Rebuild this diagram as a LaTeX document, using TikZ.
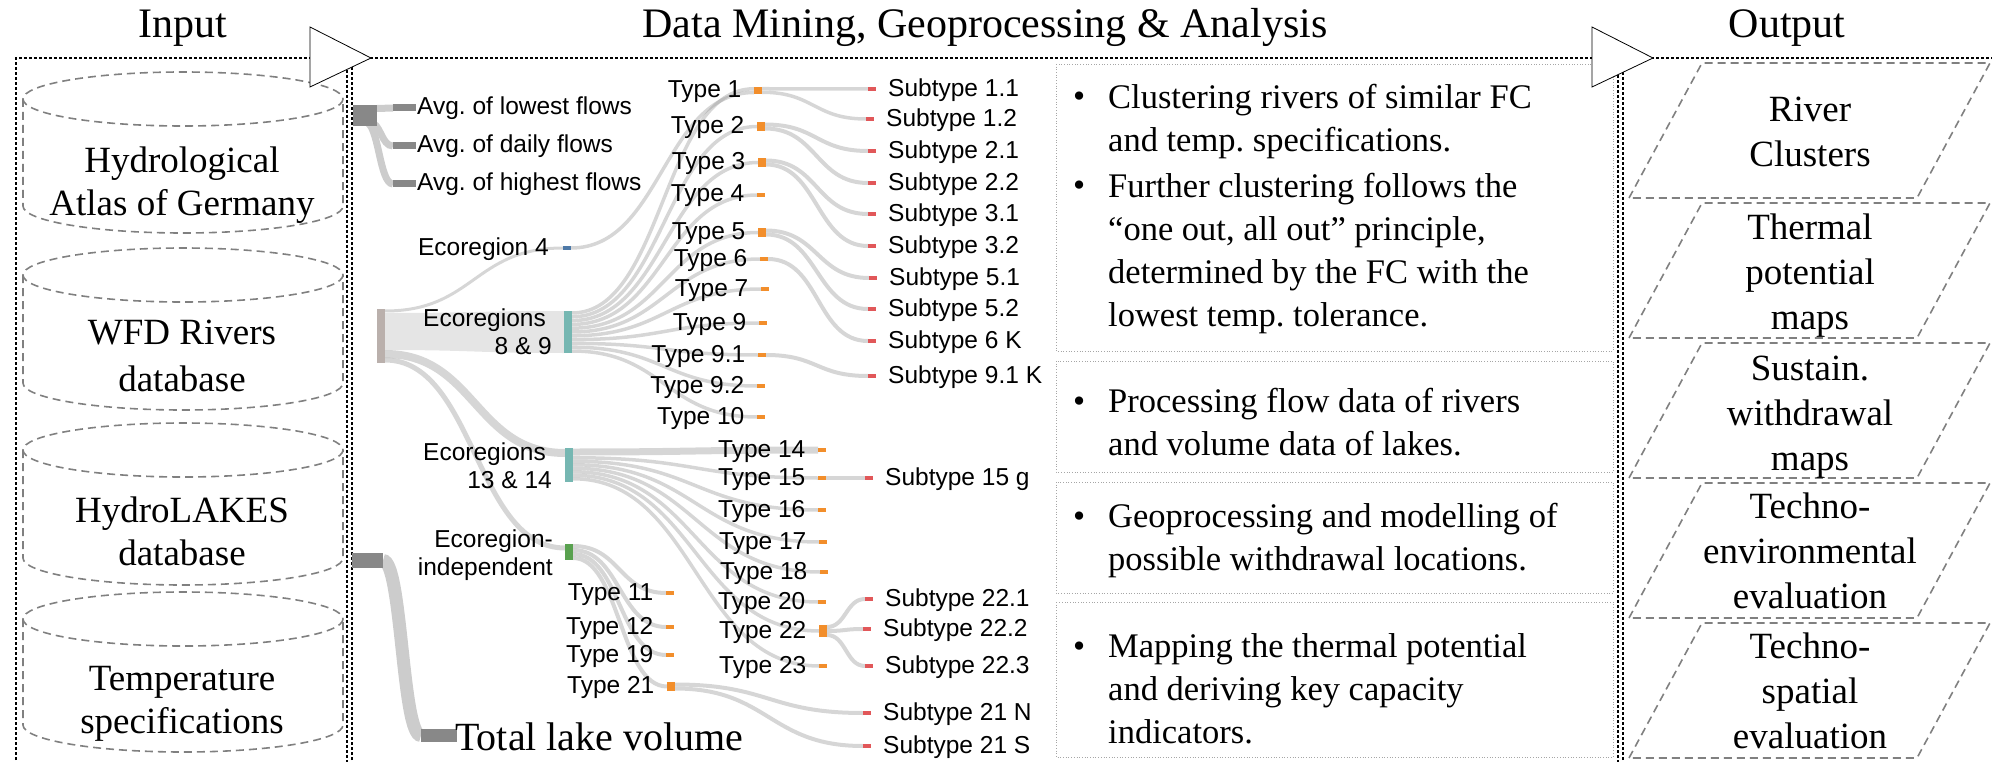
\documentclass[tikz,border=0pt]{standalone}
\usepackage{fontspec}
\setmainfont{Liberation Serif}
\newfontfamily\arialf{Liberation Sans}
\pgfdeclarelayer{bg}
\pgfsetlayers{bg,main}
\definecolor{skgray}{HTML}{888888}
\definecolor{skwfd}{HTML}{BAB0AC}
\definecolor{skblue}{HTML}{4E79A7}
\definecolor{skteal}{HTML}{76B7B2}
\definecolor{skgreen}{HTML}{59A14F}
\definecolor{skorange}{HTML}{F28E2B}
\definecolor{skred}{HTML}{E15759}
\definecolor{cylgray}{HTML}{808080}
\definecolor{boxgray}{HTML}{A6A6A6}
\newcommand\sklk[5][lk]{\draw[#1=#2] (#3) .. controls +(#5,0) and +(-#5,0) .. (#4);}
\newcommand\drawcyl[2]{%
  \draw[cyl] (183,#1+27) ellipse [x radius=160, y radius=27];
  \draw[cyl] (23,#1+27) -- (23,#2-27) arc[start angle=180, end angle=0, x radius=160, y radius=27] -- (343,#1+27);}
\newcommand\drawpara[1]{%
  \draw[para] (1629,#1+135) -- (1702,#1) -- (1990,#1) -- (1917,#1+135) -- cycle;}
\begin{document}
\frenchspacing
\begin{tikzpicture}[x=1pt,y=-1pt,
  panel/.style={draw=black, line width=1.2pt, dash pattern=on 3pt off 2pt},
  cyl/.style={draw=cylgray, line width=1.6pt, dash pattern=on 8pt off 5pt},
  para/.style={draw=cylgray, line width=1.6pt, dash pattern=on 8pt off 5pt},
  chev/.style={draw=black, fill=white, line width=0.8pt},
  title/.style={font=\fontsize{42}{50}\selectfont, inner sep=0pt, anchor=base},
  bigtxt/.style={font=\fontsize{37}{43}\selectfont, inner sep=0pt, align=center, anchor=north},
  outtxt/.style={font=\fontsize{37}{45}\selectfont, inner sep=0pt, align=center, anchor=north},
  bultxt/.style={font=\fontsize{34.5}{43}\selectfont, inner sep=0pt, align=left, anchor=north west},
  bulmark/.style={font=\fontsize{34.5}{43}\selectfont, inner sep=0pt, anchor=base west},
  tbox/.style={draw=boxgray, line width=0.7pt, dotted},
  sn/.style={rectangle, inner sep=0pt, outer sep=0pt, minimum width=8pt, fill=#1},
  lbl/.style={font=\arialf\fontsize{24.5}{28.5}\selectfont, inner sep=0pt},
  lk/.style={draw=black!40, draw opacity=0.4, line width=#1pt},
  lks/.style={draw=black!20, line width=#1pt},
]
\useasboundingbox (0,0) rectangle (1992,762);

% panels
\draw[panel] (16,765) -- (16,58) -- (347,58) -- (347,765);
\draw[panel] (352,765) -- (352,58) -- (1618,58) -- (1618,765);
\draw[panel] (1623,765) -- (1623,58) -- (1995,58);

% titles
\node[title] (tin) at (182.5,38) {Input};
\node[title] (tmid) at (985,38) {Data Mining, Geoprocessing \& Analysis};
\node[title] (tout) at (1787,38) {Output};

% input cylinders
\drawcyl{72}{233}
\drawcyl{248}{410}
\drawcyl{423}{585}
\drawcyl{592}{752}
\node[bigtxt] (cyl1) at (182,141.9) {\strut Hydrological\\Atlas of Germany};
\node[bigtxt] (cyl2) at (182,313.9) {\strut WFD Rivers\\[4pt]database};
\node[bigtxt] (cyl3) at (182,491.9) {\strut HydroLAKES\\database};
\node[bigtxt] (cyl4) at (182,659.9) {\strut Temperature\\specifications};

% sankey nodes
\node[sn=skgray, minimum width=24pt, minimum height=21pt] (hyd) at (365,115.5) {};
\node[sn=skgray, minimum width=23pt, minimum height=7pt] (avg1) at (404.5,108) {};
\node[sn=skgray, minimum width=23pt, minimum height=7pt] (avg2) at (404.5,146) {};
\node[sn=skgray, minimum width=23pt, minimum height=7pt] (avg3) at (404.5,184) {};
\node[sn=skwfd, minimum height=54pt] (wfd) at (381,336) {};
\node[sn=skgray, minimum width=31pt, minimum height=15pt] (lakes) at (367.5,560.5) {};
\node[sn=skgray, minimum width=36pt, minimum height=13pt] (lakevol) at (439,735.5) {};
\node[sn=skblue, minimum height=4pt] (eco4) at (567,248) {};
\node[sn=skteal, minimum height=42pt] (eco89) at (568,332) {};
\node[sn=skteal, minimum height=34pt] (eco1314) at (569,465) {};
\node[sn=skgreen, minimum height=16pt] (ecoind) at (569,552) {};

\node[sn=skorange, minimum height=7pt] (t1) at (758,90.5) {};
\node[sn=skorange, minimum height=9pt] (t2) at (761,126.5) {};
\node[sn=skorange, minimum height=9pt] (t3) at (762,162.5) {};
\node[sn=skorange, minimum height=4pt] (t4) at (761,195) {};
\node[sn=skorange, minimum height=9pt] (t5) at (762,232.5) {};
\node[sn=skorange, minimum height=4pt] (t6) at (764,259) {};
\node[sn=skorange, minimum height=4pt] (t7) at (765,289) {};
\node[sn=skorange, minimum height=4pt] (t9) at (763,323) {};
\node[sn=skorange, minimum height=4pt] (t91) at (762,355) {};
\node[sn=skorange, minimum height=4pt] (t92) at (761,386) {};
\node[sn=skorange, minimum height=4pt] (t10) at (761,417) {};
\node[sn=skorange, minimum height=4pt] (t14) at (822,450) {};
\node[sn=skorange, minimum height=4pt] (t15) at (822,478) {};
\node[sn=skorange, minimum height=4pt] (t16) at (822,510) {};
\node[sn=skorange, minimum height=4pt] (t17) at (823,542) {};
\node[sn=skorange, minimum height=4pt] (t18) at (824,572) {};
\node[sn=skorange, minimum height=4pt] (t20) at (822,602) {};
\node[sn=skorange, minimum height=12pt] (t22) at (823,631) {};
\node[sn=skorange, minimum height=4pt] (t23) at (823,666) {};
\node[sn=skorange, minimum height=4pt] (t11) at (670,593) {};
\node[sn=skorange, minimum height=4pt] (t12) at (670,627) {};
\node[sn=skorange, minimum height=4pt] (t19) at (670,655) {};
\node[sn=skorange, minimum height=9pt] (t21) at (671,686.5) {};

\node[sn=skred, minimum height=4pt] (s11) at (872,89) {};
\node[sn=skred, minimum height=4pt] (s12) at (870,119) {};
\node[sn=skred, minimum height=4pt] (s21) at (872,151) {};
\node[sn=skred, minimum height=4pt] (s22) at (872,183) {};
\node[sn=skred, minimum height=4pt] (s31) at (872,214) {};
\node[sn=skred, minimum height=4pt] (s32) at (872,246) {};
\node[sn=skred, minimum height=4pt] (s51) at (873,278) {};
\node[sn=skred, minimum height=4pt] (s52) at (872,309) {};
\node[sn=skred, minimum height=4pt] (s6k) at (872,341) {};
\node[sn=skred, minimum height=4pt] (s91k) at (872,376) {};
\node[sn=skred, minimum height=4pt] (s15g) at (869,478) {};
\node[sn=skred, minimum height=4pt] (s221) at (869,599) {};
\node[sn=skred, minimum height=4pt] (s222) at (867,629) {};
\node[sn=skred, minimum height=4pt] (s223) at (869,666) {};
\node[sn=skred, minimum height=4pt] (s21n) at (867,713) {};
\node[sn=skred, minimum height=4pt] (s21s) at (867,746) {};

% links
\begin{pgfonlayer}{bg}
\sklk[lks]{7}{[yshift=-3.5pt]hyd.north east}{avg1.west}{8}
\sklk[lks]{7}{[xshift=-8pt,yshift=4pt]hyd.south east}{avg2.west}{12}
\sklk[lks]{7}{[xshift=-12pt,yshift=4pt]hyd.south east}{avg3.west}{14}
\sklk[lks]{13}{lakes.east}{lakevol.west}{19}
\sklk{3}{[yshift=-2pt]wfd.north east}{eco4.west}{89}
\fill[black!40, fill opacity=0.25] ([yshift=-4pt]wfd.north east) .. controls +(89,0) and +(-89,0) .. (eco89.north west) -- (eco89.south west) .. controls +(-89,0) and +(89,0) .. ([yshift=13pt]wfd.south east) -- cycle;
\sklk{8}{[yshift=9pt]wfd.south east}{[yshift=-5pt]eco1314.north west}{90}
\sklk{5}{[yshift=3pt]wfd.south east}{[yshift=-4pt]ecoind.north west}{90}
\sklk{3.5}{eco4.east}{[yshift=-2pt]t1.west}{91}
\sklk{3.5}{[yshift=-2pt]eco89.north east}{[yshift=1.75pt]t1.west}{92}
\sklk{3.5}{[yshift=-5.8pt]eco89.north east}{t2.west}{92}
\sklk{3.5}{[yshift=-9.6pt]eco89.north east}{t3.west}{92}
\sklk{3.5}{[yshift=-13.4pt]eco89.north east}{t4.west}{92}
\sklk{3.5}{[yshift=-17.2pt]eco89.north east}{t5.west}{92}
\sklk{3.5}{[yshift=-21pt]eco89.north east}{t6.west}{92}
\sklk{3.5}{[yshift=-24.8pt]eco89.north east}{t7.west}{92}
\sklk{3.5}{[yshift=-28.6pt]eco89.north east}{t9.west}{92}
\sklk{3.5}{[yshift=-32.4pt]eco89.north east}{t91.west}{92}
\sklk{3.5}{[yshift=-36.2pt]eco89.north east}{t92.west}{92}
\sklk{3.5}{[yshift=-40pt]eco89.north east}{t10.west}{92}
\sklk{7}{[yshift=-4pt]eco1314.north east}{t14.west}{123}
\sklk{3.5}{[yshift=-9.75pt]eco1314.north east}{t15.west}{123}
\sklk{3.5}{[yshift=-13.25pt]eco1314.north east}{t16.west}{123}
\sklk{3.5}{[yshift=-16.75pt]eco1314.north east}{t17.west}{123}
\sklk{3.5}{[yshift=-20.25pt]eco1314.north east}{t18.west}{123}
\sklk{3.5}{[yshift=-23.75pt]eco1314.north east}{t20.west}{123}
\sklk{3.5}{[yshift=-27.25pt]eco1314.north east}{t22.west}{123}
\sklk{3.5}{[yshift=-30.75pt]eco1314.north east}{t23.west}{123}
\sklk{4}{[yshift=-2pt]ecoind.north east}{t11.west}{47}
\sklk{4}{[yshift=-6pt]ecoind.north east}{t12.west}{47}
\sklk{4}{[yshift=-10pt]ecoind.north east}{t19.west}{47}
\sklk{4}{[yshift=-14pt]ecoind.north east}{t21.west}{47}
\sklk{3.5}{[yshift=1.75pt]t1.east}{s11.west}{52}
\sklk{3.5}{[yshift=-1.75pt]t1.east}{s12.west}{52}
\sklk{4}{[yshift=2pt]t2.east}{s21.west}{52}
\sklk{4}{[yshift=-2pt]t2.east}{s22.west}{52}
\sklk{4}{[yshift=2pt]t3.east}{s31.west}{52}
\sklk{4}{[yshift=-2pt]t3.east}{s32.west}{52}
\sklk{4}{[yshift=2pt]t5.east}{s51.west}{52}
\sklk{4}{[yshift=-2pt]t5.east}{s52.west}{52}
\sklk{4}{t6.east}{s6k.west}{52}
\sklk{4}{t91.east}{s91k.west}{52}
\sklk{4}{t15.east}{s15g.west}{19}
\sklk{4}{[yshift=4pt]t22.east}{s221.west}{19}
\sklk{4}{t22.east}{s222.west}{19}
\sklk{4}{[yshift=-4pt]t22.east}{s223.west}{19}
\sklk{4}{[yshift=2pt]t21.east}{s21n.west}{94}
\sklk{4}{[yshift=-2pt]t21.east}{s21s.west}{94}
\end{pgfonlayer}

% sankey labels
\node[lbl, anchor=base west] (lavg1) at ([xshift=1pt,yshift=-7pt]avg1.east) {Avg. of lowest flows};
\node[lbl, anchor=base west] (lavg2) at ([xshift=1pt,yshift=-7pt]avg2.east) {Avg. of daily flows};
\node[lbl, anchor=base west] (lavg3) at ([xshift=1pt,yshift=-7pt]avg3.east) {Avg. of highest flows};
\node[lbl, anchor=base east] (leco4) at ([xshift=-14pt,yshift=-7pt]eco4.west) {Ecoregion 4};
\node[lbl, anchor=north east, align=right] (leco89) at ([xshift=-12pt,yshift=26pt]eco89.west) {\strut Ecoregions\hspace*{6pt}\\8 \& 9};
\node[lbl, anchor=north east, align=right] (leco1314) at ([xshift=-13pt,yshift=25pt]eco1314.west) {\strut Ecoregions\hspace*{6pt}\\13 \& 14};
\node[lbl, anchor=north east, align=right] (lecoind) at ([xshift=-12pt,yshift=25pt]ecoind.west) {\strut Ecoregion-\\independent};
\node[font=\fontsize{40}{48}\selectfont, inner sep=0pt, anchor=base west] (llake) at ([xshift=-2pt,yshift=-14.5pt]lakevol.east) {Total lake volume};

\foreach \n/\t in {t1/Type 1, t2/Type 2, t3/Type 3, t4/Type 4, t5/Type 5, t6/Type 6, t7/Type 7, t9/Type 9, t91/Type 9.1, t92/Type 9.2, t10/Type 10, t14/Type 14, t15/Type 15, t16/Type 16, t17/Type 17, t18/Type 18, t20/Type 20, t22/Type 22, t23/Type 23, t11/Type 11, t12/Type 12, t19/Type 19, t21/Type 21}
  \node[lbl, anchor=base east] (l\n) at ([xshift=-12.5pt,yshift=-7pt]\n.west) {\t};
\foreach \n/\t in {s11/Subtype 1.1, s12/Subtype 1.2, s21/Subtype 2.1, s22/Subtype 2.2, s31/Subtype 3.1, s32/Subtype 3.2, s51/Subtype 5.1, s52/Subtype 5.2, s6k/Subtype 6 K, s91k/Subtype 9.1 K, s15g/Subtype 15 g, s221/Subtype 22.1, s222/Subtype 22.2, s223/Subtype 22.3, s21n/Subtype 21 N, s21s/Subtype 21 S}
  \node[lbl, anchor=base west] (l\n) at ([xshift=12pt,yshift=-7.5pt]\n.east) {\t};

% text boxes
\draw[tbox] (1056,64) rectangle (1613,351);
\draw[tbox] (1056,361) rectangle (1613,472);
\draw[tbox] (1056,482) rectangle (1613,593);
\draw[tbox] (1056,602) rectangle (1613,757);
\node[bulmark] (m1) at (1073,108) {•};
\node[bultxt] (b1) at (1108,77.9) {\strut Clustering rivers of similar FC\\and temp. specifications.};
\node[bulmark] (m2) at (1073,197) {•};
\node[bultxt] (b2) at (1108,166.9) {\strut Further clustering follows the\\``one out, all out'' principle,\\determined by the FC with the\\lowest temp. tolerance.};
\node[bulmark] (m3) at (1073,412) {•};
\node[bultxt] (b3) at (1108,381.9) {\strut Processing flow data of rivers\\and volume data of lakes.};
\node[bulmark] (m4) at (1073,527) {•};
\node[bultxt] (b4) at (1108,496.9) {\strut Geoprocessing and modelling of\\possible withdrawal locations.};
\node[bulmark] (m5) at (1073,657) {•};
\node[bultxt] (b5) at (1108,626.9) {\strut Mapping the thermal potential\\and deriving key capacity\\indicators.};

% outputs
\drawpara{63}
\drawpara{203}
\drawpara{343}
\drawpara{483}
\drawpara{623}
\node[outtxt] (o1) at (1810,89.5) {\strut River\\Clusters};
\node[outtxt] (o2) at (1810,207.5) {\strut Thermal\\potential\\maps};
\node[outtxt] (o3) at (1810,348.5) {\strut Sustain.\\withdrawal\\maps};
\node[outtxt] (o4) at (1810,486.5) {\strut Techno-\\environmental\\evaluation};
\node[outtxt] (o5) at (1810,626.5) {\strut Techno-\\spatial\\evaluation};

% chevrons
\draw[chev] (310,27) -- (371,58) -- (310,87) -- cycle;
\draw[chev] (1592,27) -- (1653,58) -- (1592,87) -- cycle;
\end{tikzpicture}
\end{document}
